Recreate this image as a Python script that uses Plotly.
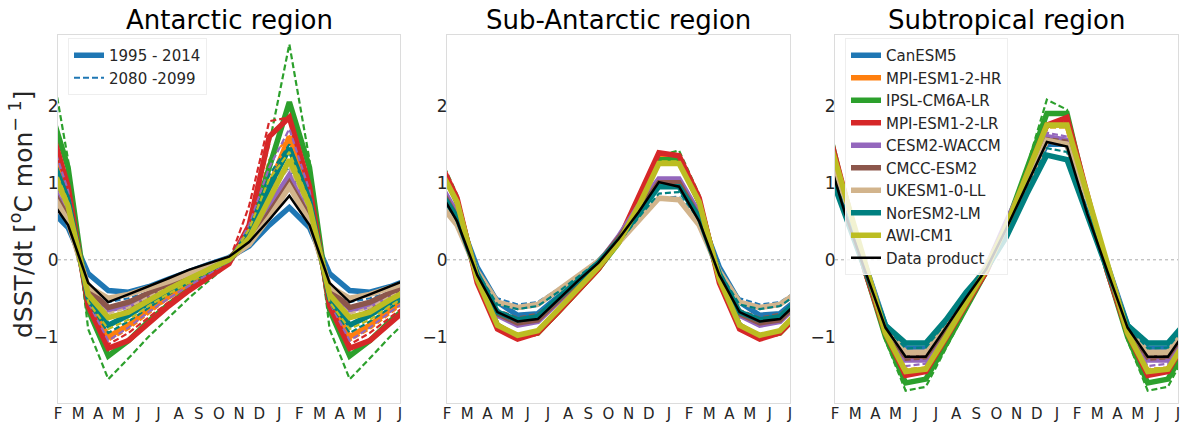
import plotly.graph_objects as go

# ---------------- data (monthly climatology, Jan..Dec) ----------------
MODELS = ["CanESM5", "MPI-ESM1-2-HR", "IPSL-CM6A-LR", "MPI-ESM1-2-LR", "CESM2-WACCM",
          "CMCC-ESM2", "UKESM1-0-LL", "NorESM2-LM", "AWI-CM1"]
COLORS = ["#1f77b4", "#ff7f0e", "#2ca02c", "#d62728", "#9467bd",
          "#8c564b", "#d2b48c", "#008080", "#bcbd22"]
REGIONS = ["Antarctic region", "Sub-Antarctic region", "Subtropical region"]
TICK_LABELS = ["F", "M", "A", "M", "J", "J", "A", "S", "O", "N", "D", "J", "F", "M", "A", "M", "J", "J"]
PERIODS = ["1995 - 2014", "2080 -2099"]

# Antarctic
ant_hist = {
    "CanESM5":       [0.68, 0.42, -0.18, -0.40, -0.42, -0.35, -0.25, -0.15, -0.06, 0.03, 0.18, 0.45],
    "MPI-ESM1-2-HR": [1.60, 0.85, -0.55, -1.00, -0.85, -0.65, -0.48, -0.32, -0.17, -0.02, 0.30, 0.95],
    "IPSL-CM6A-LR":  [2.05, 1.20, -0.65, -1.25, -1.05, -0.80, -0.58, -0.38, -0.20, -0.03, 0.35, 1.20],
    "MPI-ESM1-2-LR": [1.85, 0.95, -0.60, -1.15, -1.05, -0.82, -0.60, -0.40, -0.22, -0.05, 0.45, 1.60],
    "CESM2-WACCM":   [1.10, 0.60, -0.40, -0.65, -0.60, -0.48, -0.36, -0.24, -0.12, 0.00, 0.25, 0.70],
    "CMCC-ESM2":     [1.00, 0.55, -0.38, -0.62, -0.55, -0.43, -0.32, -0.20, -0.10, 0.00, 0.22, 0.62],
    "UKESM1-0-LL":   [0.95, 0.50, -0.35, -0.50, -0.45, -0.37, -0.28, -0.18, -0.08, 0.02, 0.20, 0.55],
    "NorESM2-LM":    [1.45, 0.78, -0.50, -0.85, -0.72, -0.55, -0.40, -0.26, -0.13, 0.00, 0.30, 0.95],
    "AWI-CM1":       [1.30, 0.70, -0.45, -0.75, -0.68, -0.52, -0.38, -0.25, -0.12, 0.00, 0.28, 0.80],
}
ant_fut = {
    "CanESM5":       [1.20, 0.65, -0.45, -0.55, -0.50, -0.42, -0.32, -0.20, -0.10, 0.00, 0.35, 0.90],
    "MPI-ESM1-2-HR": [1.60, 0.85, -0.60, -1.05, -0.90, -0.70, -0.50, -0.34, -0.18, -0.02, 0.45, 1.30],
    "IPSL-CM6A-LR":  [2.80, 1.30, -0.90, -1.55, -1.28, -1.00, -0.75, -0.50, -0.27, -0.05, 0.45, 1.50],
    "MPI-ESM1-2-LR": [1.85, 1.00, -0.65, -1.10, -0.95, -0.75, -0.55, -0.38, -0.20, -0.02, 0.70, 1.80],
    "CESM2-WACCM":   [1.70, 0.90, -0.55, -1.05, -0.88, -0.68, -0.50, -0.34, -0.18, -0.02, 0.45, 1.20],
    "CMCC-ESM2":     [1.30, 0.70, -0.50, -0.75, -0.65, -0.50, -0.38, -0.25, -0.12, 0.00, 0.35, 0.90],
    "UKESM1-0-LL":   [1.20, 0.65, -0.45, -0.70, -0.62, -0.48, -0.36, -0.24, -0.12, 0.00, 0.32, 0.85],
    "NorESM2-LM":    [1.50, 0.80, -0.55, -0.95, -0.80, -0.62, -0.45, -0.30, -0.16, -0.01, 0.40, 1.10],
    "AWI-CM1":       [1.40, 0.75, -0.55, -0.90, -0.78, -0.60, -0.44, -0.29, -0.15, -0.01, 0.40, 1.05],
}
ant_obs = [0.83, 0.45, -0.30, -0.55, -0.45, -0.35, -0.24, -0.13, -0.05, 0.04, 0.23, 0.52]

# Sub-Antarctic
sub_hist = {
    "CanESM5":       [1.00, 0.60, -0.10, -0.55, -0.72, -0.70, -0.48, -0.25, -0.02, 0.25, 0.60, 0.98],
    "MPI-ESM1-2-HR": [1.30, 0.75, -0.25, -0.85, -1.00, -0.95, -0.68, -0.40, -0.12, 0.25, 0.75, 1.35],
    "IPSL-CM6A-LR":  [1.30, 0.75, -0.25, -0.85, -1.00, -0.95, -0.68, -0.40, -0.12, 0.22, 0.70, 1.30],
    "MPI-ESM1-2-LR": [1.35, 0.80, -0.30, -0.90, -1.03, -0.95, -0.68, -0.40, -0.12, 0.25, 0.80, 1.39],
    "CESM2-WACCM":   [1.05, 0.60, -0.20, -0.72, -0.85, -0.80, -0.55, -0.30, -0.05, 0.30, 0.70, 1.05],
    "CMCC-ESM2":     [1.00, 0.55, -0.20, -0.70, -0.82, -0.78, -0.53, -0.28, -0.04, 0.28, 0.65, 1.00],
    "UKESM1-0-LL":   [0.78, 0.45, -0.15, -0.55, -0.62, -0.58, -0.40, -0.22, -0.02, 0.22, 0.50, 0.80],
    "NorESM2-LM":    [0.95, 0.55, -0.18, -0.68, -0.78, -0.74, -0.50, -0.27, -0.04, 0.25, 0.60, 0.95],
    "AWI-CM1":       [1.25, 0.75, -0.25, -0.85, -0.98, -0.92, -0.65, -0.38, -0.10, 0.22, 0.70, 1.25],
}
sub_fut = {
    "CanESM5":       [0.82, 0.50, -0.15, -0.50, -0.58, -0.55, -0.38, -0.20, 0.00, 0.20, 0.50, 0.80],
    "MPI-ESM1-2-HR": [1.30, 0.78, -0.25, -0.85, -0.98, -0.93, -0.66, -0.38, -0.10, 0.24, 0.72, 1.30],
    "IPSL-CM6A-LR":  [1.42, 0.85, -0.25, -0.85, -1.00, -0.95, -0.68, -0.40, -0.12, 0.22, 0.72, 1.35],
    "MPI-ESM1-2-LR": [1.35, 0.80, -0.28, -0.88, -1.00, -0.95, -0.68, -0.40, -0.12, 0.24, 0.78, 1.38],
    "CESM2-WACCM":   [1.00, 0.58, -0.20, -0.70, -0.80, -0.76, -0.52, -0.28, -0.04, 0.28, 0.66, 1.00],
    "CMCC-ESM2":     [0.95, 0.55, -0.18, -0.65, -0.75, -0.70, -0.50, -0.27, -0.03, 0.26, 0.62, 0.95],
    "UKESM1-0-LL":   [0.80, 0.47, -0.15, -0.55, -0.64, -0.60, -0.42, -0.22, -0.02, 0.22, 0.52, 0.80],
    "NorESM2-LM":    [0.88, 0.52, -0.16, -0.58, -0.64, -0.60, -0.42, -0.22, -0.02, 0.22, 0.55, 0.86],
    "AWI-CM1":       [1.28, 0.76, -0.25, -0.85, -0.98, -0.92, -0.65, -0.38, -0.10, 0.22, 0.70, 1.28],
}
sub_obs = [0.95, 0.50, -0.20, -0.68, -0.80, -0.77, -0.52, -0.27, -0.04, 0.27, 0.62, 1.01]

# Subtropical
stp_hist = {
    "CanESM5":       [1.50, 0.70, -0.10, -0.85, -1.15, -1.15, -0.82, -0.45, -0.10, 0.40, 0.95, 1.50],
    "MPI-ESM1-2-HR": [1.75, 0.80, -0.15, -0.95, -1.45, -1.42, -1.00, -0.58, -0.15, 0.45, 1.10, 1.75],
    "IPSL-CM6A-LR":  [1.90, 0.80, -0.15, -1.00, -1.60, -1.55, -1.10, -0.62, -0.15, 0.45, 1.15, 1.90],
    "MPI-ESM1-2-LR": [1.85, 0.85, -0.15, -0.95, -1.50, -1.45, -1.00, -0.58, -0.15, 0.42, 1.10, 1.75],
    "CESM2-WACCM":   [1.55, 0.75, -0.10, -0.90, -1.30, -1.30, -0.90, -0.50, -0.10, 0.50, 1.05, 1.60],
    "CMCC-ESM2":     [1.50, 0.72, -0.12, -0.88, -1.25, -1.25, -0.88, -0.48, -0.10, 0.45, 1.00, 1.55],
    "UKESM1-0-LL":   [1.50, 0.75, -0.10, -0.88, -1.20, -1.20, -0.85, -0.45, -0.08, 0.42, 1.00, 1.55],
    "NorESM2-LM":    [1.30, 0.60, -0.15, -0.85, -1.08, -1.08, -0.78, -0.42, -0.12, 0.30, 0.85, 1.36],
    "AWI-CM1":       [1.75, 0.85, -0.10, -0.95, -1.45, -1.42, -1.00, -0.56, -0.12, 0.45, 1.10, 1.75],
}
stp_fut = {
    "CanESM5":       [1.55, 0.72, -0.10, -0.85, -1.20, -1.18, -0.84, -0.46, -0.10, 0.40, 0.98, 1.55],
    "MPI-ESM1-2-HR": [1.72, 0.80, -0.15, -0.95, -1.42, -1.40, -0.98, -0.56, -0.14, 0.45, 1.10, 1.72],
    "IPSL-CM6A-LR":  [1.95, 0.85, -0.15, -1.05, -1.70, -1.65, -1.15, -0.65, -0.16, 0.45, 1.20, 2.08],
    "MPI-ESM1-2-LR": [1.80, 0.82, -0.15, -0.95, -1.50, -1.45, -1.00, -0.58, -0.15, 0.42, 1.10, 1.72],
    "CESM2-WACCM":   [1.60, 0.75, -0.12, -0.92, -1.38, -1.35, -0.95, -0.52, -0.10, 0.52, 1.10, 1.65],
    "CMCC-ESM2":     [1.55, 0.74, -0.12, -0.90, -1.30, -1.28, -0.90, -0.50, -0.10, 0.46, 1.02, 1.58],
    "UKESM1-0-LL":   [1.52, 0.74, -0.10, -0.90, -1.25, -1.22, -0.87, -0.47, -0.08, 0.43, 1.00, 1.56],
    "NorESM2-LM":    [1.40, 0.65, -0.14, -0.87, -1.15, -1.14, -0.82, -0.44, -0.11, 0.35, 0.90, 1.45],
    "AWI-CM1":       [1.72, 0.82, -0.10, -0.95, -1.42, -1.40, -0.98, -0.55, -0.12, 0.45, 1.08, 1.72],
}
stp_obs = [1.47, 0.60, -0.15, -0.88, -1.26, -1.26, -0.88, -0.49, -0.12, 0.41, 0.97, 1.53]

PANELS = [(ant_hist, ant_fut, ant_obs), (sub_hist, sub_fut, sub_obs), (stp_hist, stp_fut, stp_obs)]

# plotted sequence: mid-Jan (before the first tick) .. mid-Jul of the following year
N_POINTS = 19
X_POS = [k - 0.5 for k in range(N_POINTS)]


def unroll(cycle):
    return [cycle[k % 12] for k in range(N_POINTS)]


# ---------------- figure ----------------
W, H = 1184, 427
FONT = "DejaVu Sans"


def fx(px):   # screen px -> paper x
    return px / W


def fy(py):   # screen px -> paper y
    return 1 - py / H


x_domains = [(fx(58), fx(400)), (fx(447), fx(790)), (fx(835), fx(1178))]
y_domain = (fy(403), fy(35))

fig = go.Figure()

for p, (hist, fut, obs) in enumerate(PANELS):
    xa = "x" if p == 0 else f"x{p + 1}"
    ya = "y" if p == 0 else f"y{p + 1}"
    for m, col in zip(MODELS, COLORS):
        fig.add_trace(go.Scatter(
            x=X_POS, y=unroll(hist[m]), mode="lines", xaxis=xa, yaxis=ya,
            line=dict(color=col, width=5.5), name=m, legend="legend2",
            showlegend=(p == 2), hoverinfo="skip"))
        fig.add_trace(go.Scatter(
            x=X_POS, y=unroll(fut[m]), mode="lines", xaxis=xa, yaxis=ya,
            line=dict(color=col, width=2.2, dash="6px,3px"), showlegend=False,
            hoverinfo="skip"))
    fig.add_trace(go.Scatter(
        x=X_POS, y=unroll(obs), mode="lines", xaxis=xa, yaxis=ya,
        line=dict(color="black", width=2.5), name="Data product", legend="legend2",
        showlegend=(p == 2), hoverinfo="skip"))

# period legend (panel 1)
fig.add_trace(go.Scatter(x=[None], y=[None], mode="lines", name=PERIODS[0],
                         line=dict(color=COLORS[0], width=5.5), legend="legend"))
fig.add_trace(go.Scatter(x=[None], y=[None], mode="lines", name=PERIODS[1],
                         line=dict(color=COLORS[0], width=2.2, dash="6px,3px"), legend="legend"))

axis_line = "#dcdcdc"
for p in range(3):
    xk = "xaxis" if p == 0 else f"xaxis{p + 1}"
    yk = "yaxis" if p == 0 else f"yaxis{p + 1}"
    ya = "y" if p == 0 else f"y{p + 1}"
    xa = "x" if p == 0 else f"x{p + 1}"
    fig.layout[xk] = dict(
        domain=x_domains[p], range=[0, 17], anchor=ya, automargin=False,
        tickmode="array", tickvals=list(range(18)), ticktext=TICK_LABELS,
        showgrid=False, zeroline=False, showline=True, linecolor=axis_line, linewidth=1,
        mirror=True, ticks="", ticklen=0, ticklabelstandoff=-3,
        tickfont=dict(family=FONT, size=15, color="#262626"))
    fig.layout[yk] = dict(
        domain=y_domain, range=[-1.86, 2.92], anchor=xa, automargin=False,
        tickmode="array", tickvals=[-1, 0, 1, 2], ticktext=["\u22121", "0", "1", "2"],
        showgrid=False, zeroline=False, showline=True, linecolor=axis_line, linewidth=1,
        mirror=True, ticks="", ticklen=0, ticklabelstandoff=-5,
        tickfont=dict(family=FONT, size=17, color="#262626"))
    fig.add_shape(type="line", xref=f"{xa} domain", yref=ya, x0=0, x1=1, y0=0, y1=0,
                  line=dict(color="#aaaaaa", width=1, dash="dot"), layer="below")
    fig.add_annotation(text=REGIONS[p], xref="paper", yref="paper",
                       x=(x_domains[p][0] + x_domains[p][1]) / 2, y=fy(20),
                       xanchor="center", yanchor="middle", showarrow=False,
                       font=dict(family=FONT, size=26, color="black"))

fig.add_annotation(text="dSST/dt [<sup>o</sup>C mon<sup>\u2212 1</sup>]", xref="paper", yref="paper",
                   x=fx(21), y=fy(215), textangle=-90, showarrow=False,
                   xanchor="center", yanchor="middle",
                   font=dict(family=FONT, size=25, color="#262626"))

fig.update_layout(
    width=W, height=H, margin=dict(l=0, r=0, t=0, b=0, autoexpand=False),
    paper_bgcolor="white", plot_bgcolor="white",
    legend=dict(x=fx(68), y=fy(38), xanchor="left", yanchor="top",
                bgcolor="rgba(255,255,255,0.85)", bordercolor="#eeeeee", borderwidth=1,
                font=dict(family=FONT, size=15, color="#262626")),
    legend2=dict(x=fx(845), y=fy(38), xanchor="left", yanchor="top",
                 bgcolor="rgba(255,255,255,0.8)", bordercolor="#eeeeee", borderwidth=1,
                 font=dict(family=FONT, size=15, color="#262626"), tracegroupgap=0),
    showlegend=True,
)

# remove the browser's default page margin so the figure sits at the window origin
fig.write_html("out.html", config={"displayModeBar": False},
               post_script="document.body.style.margin='0';")
